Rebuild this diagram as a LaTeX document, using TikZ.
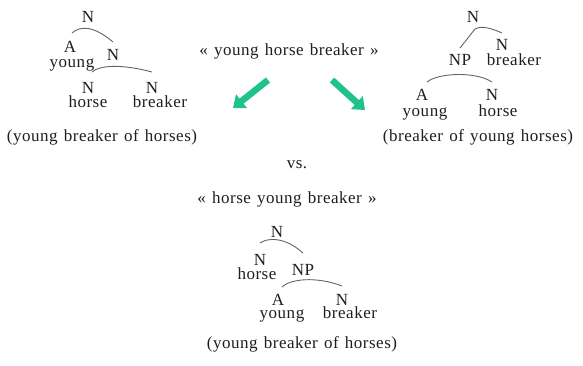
\documentclass[tikz,border=0pt]{standalone}
\usepackage{fontspec}
\setmainfont{Liberation Serif}[LetterSpace=3,WordSpace=1.3]
\usetikzlibrary{arrows.meta}
\definecolor{arrowgreen}{RGB}{30,195,140}
\definecolor{txt}{RGB}{30,30,30}
\definecolor{branch}{RGB}{100,100,100}
\tikzset{
  lbl/.style={inner sep=0pt, text=txt, font=\fontsize{17}{19}\selectfont, anchor=base},
  br/.style={draw=branch, line width=0.9pt},
  bigarrow/.style={draw=arrowgreen, line width=6.5pt, -{Triangle[width=17pt,length=11pt]}}
}
\begin{document}
\begin{tikzpicture}[x=1pt,y=-1pt]
\useasboundingbox (0,0) rectangle (583,365);
% ---- left tree
\node[lbl] (l0) at (88,22) {N};
\node[lbl] (lA) at (70,52) {A};
\node[lbl] (ly) at (72,67) {young};
\node[lbl] (lN) at (113,60) {N};
\node[lbl] (lN2) at (88,93) {N};
\node[lbl] (lh) at (88,107) {horse};
\node[lbl] (lN3) at (152,93) {N};
\node[lbl] (lb) at (160,107) {breaker};
\node[lbl] (lg) at (102,141) {(young breaker of horses)};
\coordinate (la1) at (72,33);
\coordinate (la2) at (113,42);
\coordinate (lb1) at (92,72);
\coordinate (lb2) at (152,72);
\draw[br] (la1) .. controls (80,26) and (93,25) .. (la2);
\draw[br] (lb1) .. controls (100,65) and (122,64) .. (lb2);
% ---- center
\node[lbl] (c1) at (289,55) {« young horse breaker »};
\coordinate (a1s) at (268,80);
\coordinate (a1e) at (233,108);
\coordinate (a2s) at (332,80);
\coordinate (a2e) at (365,110);
\draw[bigarrow] (a1s) -- (a1e);
\draw[bigarrow] (a2s) -- (a2e);
% ---- right tree
\node[lbl] (r0) at (473,22) {N};
\node[lbl] (rN) at (502,50) {N};
\node[lbl] (rb) at (514,65) {breaker};
\node[lbl] (rNP) at (460,65) {NP};
\node[lbl] (rA) at (422,100) {A};
\node[lbl] (ry) at (425,116) {young};
\node[lbl] (rN2) at (492,100) {N};
\node[lbl] (rh) at (498,116) {horse};
\node[lbl] (rg) at (478,141) {(breaker of young horses)};
\coordinate (ra1) at (460,48);
\coordinate (ra2) at (475,29);
\coordinate (ra3) at (502,33);
\coordinate (rb1) at (427,82);
\coordinate (rb2) at (492,82);
\draw[br] (ra1) -- (ra2) .. controls (482,25) and (493,29) .. (ra3);
\draw[br] (rb1) .. controls (438,73) and (475,71) .. (rb2);
% ---- vs
\node[lbl] (vs) at (297,168) {vs.};
\node[lbl] (c2) at (287,203) {« horse young breaker »};
% ---- bottom tree
\node[lbl] (b0) at (277,237) {N};
\node[lbl] (bN) at (260,265) {N};
\node[lbl] (bh) at (257,279) {horse};
\node[lbl] (bNP) at (303,275) {NP};
\node[lbl] (bA) at (278,305) {A};
\node[lbl] (by) at (282,318) {young};
\node[lbl] (bN2) at (342,305) {N};
\node[lbl] (bb) at (350,318) {breaker};
\node[lbl] (bg) at (302,348) {(young breaker of horses)};
\coordinate (ba1) at (260,243);
\coordinate (ba2) at (303,253);
\coordinate (bb1) at (282,287);
\coordinate (bb2) at (342,286);
\draw[br] (ba1) .. controls (267,238) and (284,236) .. (ba2);
\draw[br] (bb1) .. controls (290,279) and (316,276) .. (bb2);
\end{tikzpicture}
\end{document}
